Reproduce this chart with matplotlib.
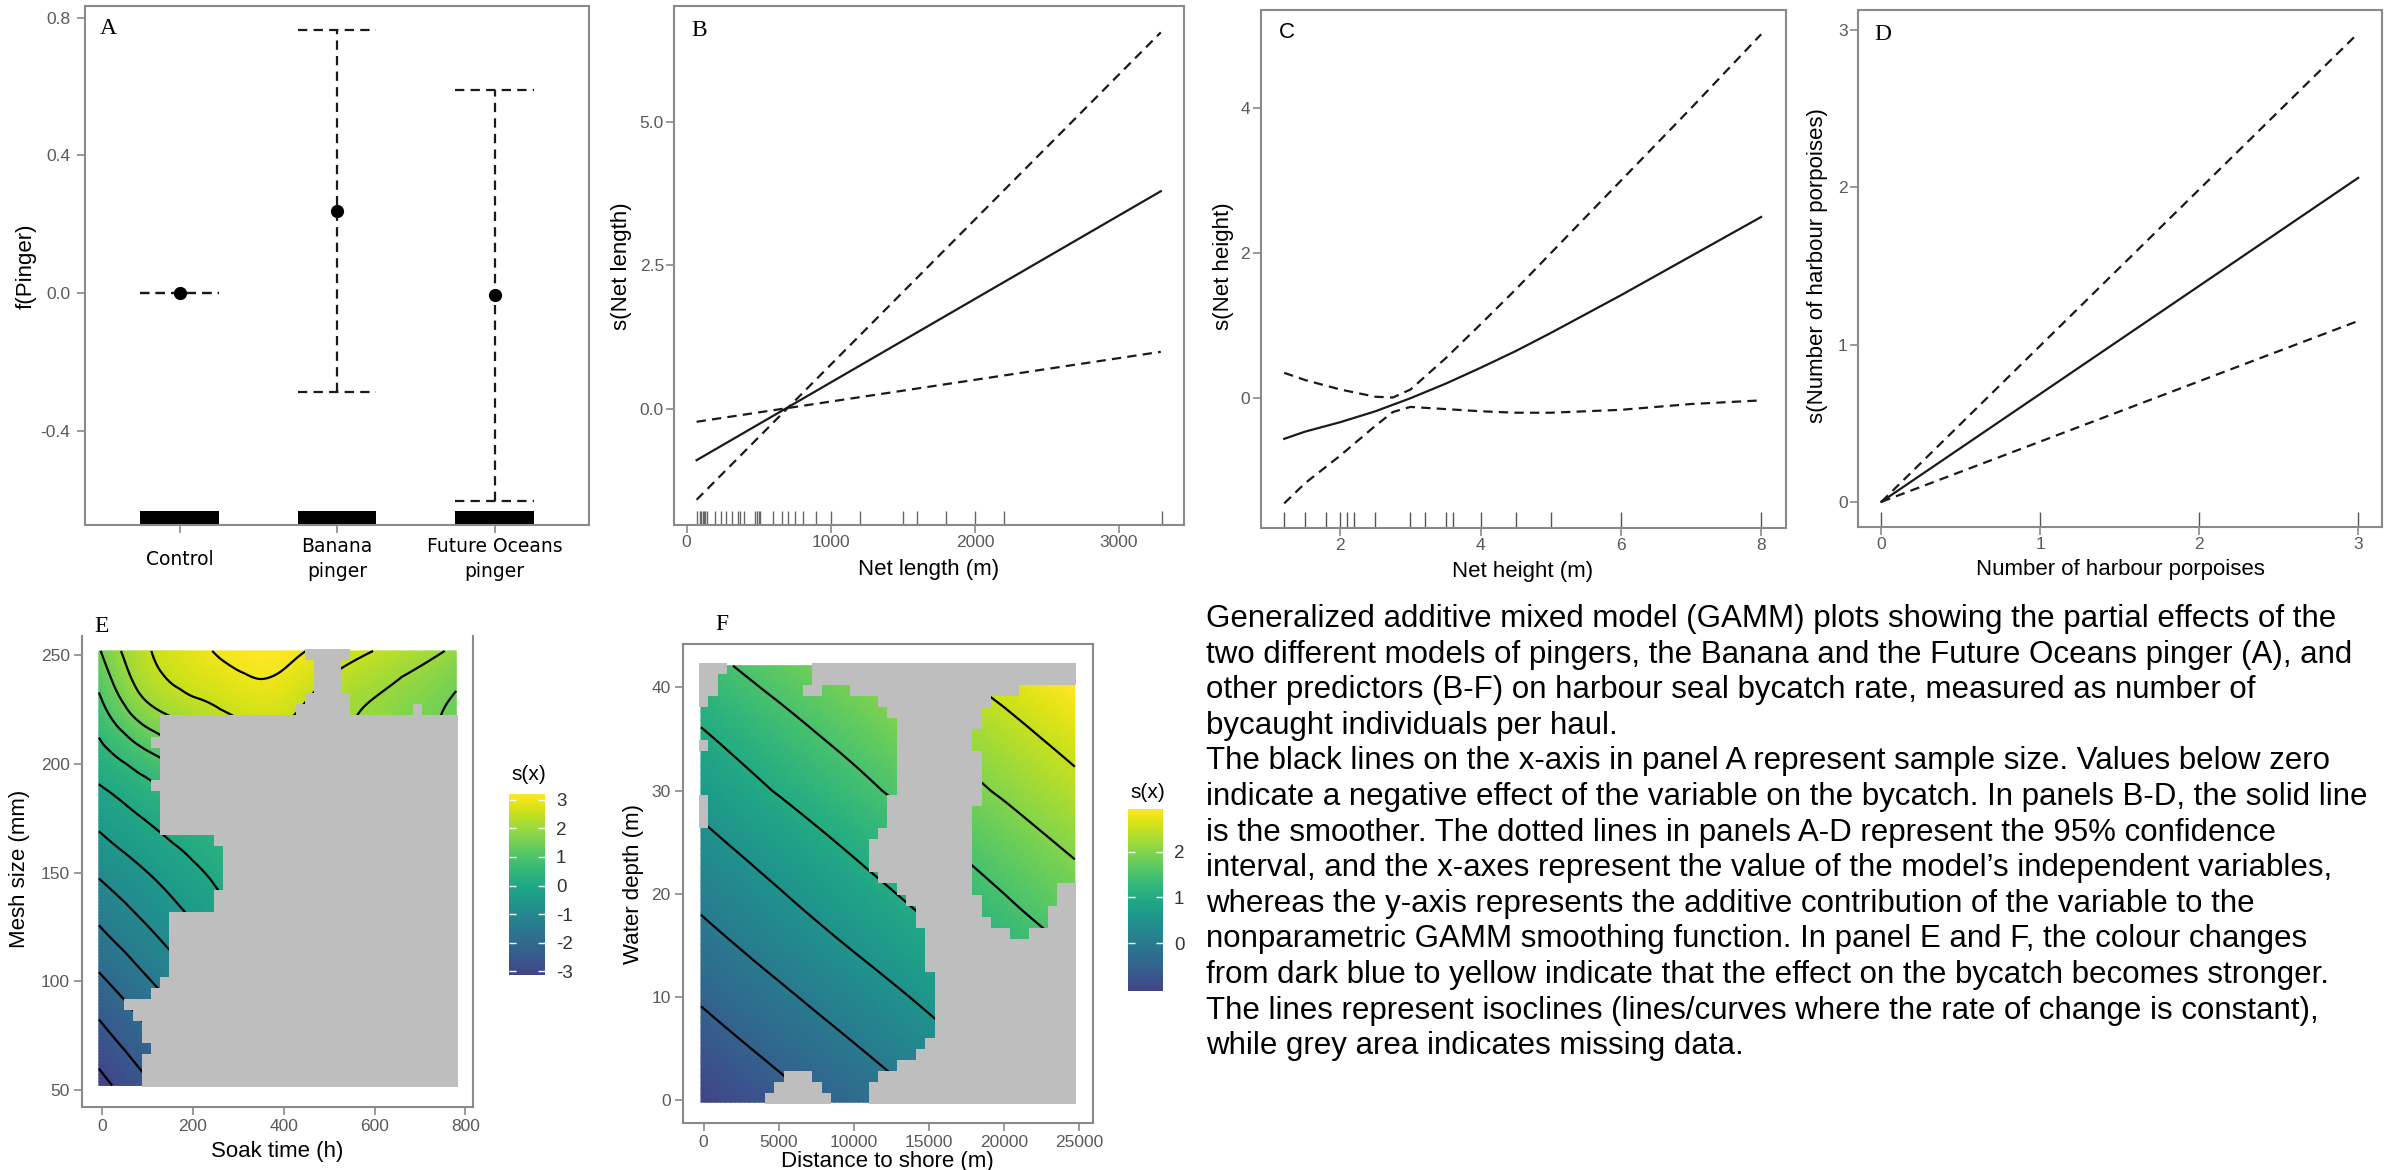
import numpy as np
import matplotlib
matplotlib.use('Agg')
import matplotlib.pyplot as plt
import matplotlib.tri as mtri
from matplotlib.colors import ListedColormap, Normalize
from matplotlib.cm import ScalarMappable
from matplotlib.ticker import FormatStrFormatter

plt.rcParams['font.family'] = ['Liberation Sans', 'DejaVu Sans']
plt.rcParams['axes.unicode_minus'] = False
plt.rcParams['contour.negative_linestyle'] = 'solid'

# ------------------------------------------------------------------ data
# Panel A : pinger effect
pinger_labels = ['Control', 'Banana\npinger', 'Future Oceans\npinger']
pinger_fit = [0.0, 0.239, -0.005]
pinger_upper = [0.0, 0.764, 0.590]
pinger_lower = [0.0, -0.287, -0.603]
pinger_bar_top = [-0.632, -0.632, -0.632]

# Panel B : net length
netlen_x = [69, 3290]
netlen_fit = [-0.90, 3.79]
netlen_upper = [-1.59, 6.56]
netlen_lower = [-0.23, 0.99]
netlen_rug = [70, 90, 100, 110, 120, 130, 140, 195, 235, 275, 315, 355, 370, 395,
              475, 485, 500, 510, 600, 660, 700, 750, 805, 900, 1000, 1200, 1500,
              1600, 1800, 2000, 2200, 3300]

# Panel C : net height
netht_x = [1.2, 1.5, 2.0, 2.5, 2.75, 3.0, 3.5, 4.0, 4.5, 5.0, 6.0, 7.0, 8.0]
netht_fit = [-0.56, -0.46, -0.33, -0.18, -0.09, 0.0, 0.2, 0.42, 0.65, 0.9, 1.42, 1.96, 2.5]
netht_upper = [0.35, 0.25, 0.12, 0.02, 0.01, 0.12, 0.55, 1.02, 1.5, 2.0, 3.0, 4.0, 5.02]
netht_lower = [-1.45, -1.17, -0.79, -0.38, -0.19, -0.12, -0.15, -0.18, -0.2, -0.2, -0.16, -0.08, -0.03]
netht_rug = [1.2, 1.5, 1.8, 2.0, 2.1, 2.2, 2.5, 3.0, 3.2, 3.5, 3.6, 4.0, 4.5, 5.0, 6.0, 8.0]

# Panel D : number of harbour porpoises
porp_x = [0, 3]
porp_fit = [0.0, 2.06]
porp_upper = [0.0, 2.98]
porp_lower = [0.0, 1.15]
porp_rug = [0, 1, 2, 3]

# Panel E : soak time x mesh size surface (node values, rows = mesh size bottom->top)
soak_nodes = [-7, 50, 100, 150, 200, 260, 340, 420, 500, 580, 660, 780]
mesh_nodes = [52, 77, 102, 127, 152, 177, 202, 227, 252]
E_values = [
    [-3.17, -2.85, -2.57, -2.28, -1.98, -1.62, -1.15, -0.68, -0.22, 0.18, 0.50, 0.90],
    [-2.62, -2.31, -2.04, -1.77, -1.49, -1.15, -0.72, -0.28, 0.15, 0.50, 0.80, 1.10],
    [-2.05, -1.76, -1.50, -1.25, -0.99, -0.68, -0.27, 0.12, 0.48, 0.78, 1.00, 1.30],
    [-1.47, -1.20, -0.97, -0.74, -0.51, -0.23, 0.14, 0.48, 0.80, 1.05, 1.25, 1.50],
    [-0.89, -0.66, -0.46, -0.26, -0.06, 0.18, 0.50, 0.80, 1.05, 1.28, 1.45, 1.65],
    [-0.32, -0.10, 0.08, 0.27, 0.45, 0.67, 0.95, 1.20, 1.40, 1.58, 1.72, 1.88],
    [0.27, 0.55, 0.82, 1.08, 1.35, 1.62, 1.90, 2.00, 1.95, 1.85, 1.72, 1.55],
    [0.85, 1.50, 1.95, 2.20, 2.38, 2.55, 2.75, 2.60, 2.25, 2.00, 1.78, 1.42],
    [1.45, 2.08, 2.45, 2.70, 2.88, 3.05, 3.20, 3.10, 2.82, 2.55, 2.30, 1.90],
]
E_range = [-3.13, 3.2]
E_mask = [  # top row first, '#' = data, '.' = missing (grey)
    "#######################.....############",
    "########################...#############",
    "########################...#############",
    "########################...#############",
    "#######################.....############",
    "######################......#######.####",
    "#######.................................",
    "#######.................................",
    "######..................................",
    "#######.................................",
    "#######.................................",
    "#######.................................",
    "######..................................",
    "#######.................................",
    "#######.................................",
    "#######.................................",
    "#######.................................",
    "#############...........................",
    "##############..........................",
    "##############..........................",
    "##############..........................",
    "##############..........................",
    "#############...........................",
    "#############...........................",
    "########................................",
    "########................................",
    "########................................",
    "########................................",
    "########................................",
    "########................................",
    "#######.................................",
    "######..................................",
    "###.....................................",
    "####....................................",
    "#####...................................",
    "#####...................................",
    "######..................................",
    "#####...................................",
    "#####...................................",
    "#####...................................",
]

# Panel F : distance to shore x water depth surface
dist_nodes = [-178, 5000, 10000, 15000, 20000, 24695]
depth_nodes = [-0.18, 10, 20, 30, 42.1]
F_values = [
    [-1.02, -0.67, -0.32, 0.02, 0.36, 0.69],
    [-0.45, -0.09, 0.25, 0.59, 0.94, 1.26],
    [0.11, 0.47, 0.81, 1.15, 1.50, 1.82],
    [0.67, 1.03, 1.37, 1.72, 2.06, 2.38],
    [1.35, 1.71, 2.05, 2.40, 2.74, 3.06],
]
F_range = [-1.04, 2.93]
F_mask = [
    "...#########............................",
    "..##########............................",
    "..#########..###..................######",
    ".##################............#########",
    "####################..........##########",
    "#####################.........##########",
    "#####################........###########",
    ".####################........###########",
    "#####################.........##########",
    "#####################.........##########",
    "#####################.........##########",
    "#####################.........##########",
    ".###################..........##########",
    ".###################.........###########",
    ".###################.........###########",
    "###################..........###########",
    "##################...........###########",
    "##################...........###########",
    "##################...........###########",
    "###################..........###########",
    "#####################........#########..",
    "######################........########..",
    "#######################.......#######...",
    "#######################........######...",
    "########################.........##.....",
    "########################................",
    "########################................",
    "########################................",
    "#########################...............",
    "#########################...............",
    "#########################...............",
    "#########################...............",
    "#########################...............",
    "#########################...............",
    "########################................",
    "#######################.................",
    "#####################...................",
    "#########...#######.....................",
    "########.....#####......................",
    "#######.......####......................",
]

caption_lines = [
    "Generalized additive mixed model (GAMM) plots showing the partial effects of the",
    "two different models of pingers, the Banana and the Future Oceans pinger (A), and",
    "other predictors (B-F) on harbour seal bycatch rate, measured as number of",
    "bycaught individuals per haul.",
    "The black lines on the x-axis in panel A represent sample size. Values below zero",
    "indicate a negative effect of the variable on the bycatch. In panels B-D, the solid line",
    "is the smoother. The dotted lines in panels A-D represent the 95% confidence",
    "interval, and the x-axes represent the value of the model\u2019s independent variables,",
    "whereas the y-axis represents the additive contribution of the variable to the",
    "nonparametric GAMM smoothing function. In panel E and F, the colour changes",
    "from dark blue to yellow indicate that the effect on the bycatch becomes stronger.",
    "The lines represent isoclines (lines/curves where the rate of change is constant),",
    "while grey area indicates missing data.",
]

# ------------------------------------------------------------------ figure
W, H = 2394, 1170
fig = plt.figure(figsize=(W / 100, H / 100), dpi=100)

SPINE = '#8a8a8a'
TICKC = '#5a5a5a'
LINEC = '#1a1a1a'
DASH = (0, (4.2, 2.8))
LW = 1.6
GREY = '#bebebe'


def add_ax(l, t, r, b):
    return fig.add_axes([l / W, 1 - b / H, (r - l) / W, (b - t) / H])


def ftext(x, y, s, **kw):
    return fig.text(x / W, 1 - y / H, s, **kw)


def style(ax, spines=('left', 'bottom', 'right', 'top'), pad=3):
    for s in ax.spines:
        ax.spines[s].set_visible(s in spines)
        ax.spines[s].set_color(SPINE)
        ax.spines[s].set_linewidth(1.5)
    ax.tick_params(direction='out', length=5.5, width=1.2, color=SPINE,
                   labelcolor=TICKC, labelsize=12.5, pad=pad)


# ---------- Panel A
axA = add_ax(85, 6, 589, 525)
A_ylim = (-0.674, 0.834)
xA = np.arange(1, len(pinger_labels) + 1)
axA.bar(xA, np.array(pinger_bar_top) - A_ylim[0], bottom=A_ylim[0], width=0.5,
        color='black', zorder=2)
axA.vlines(xA, pinger_lower, pinger_upper, colors=LINEC, linestyles=[DASH], lw=LW)
axA.hlines(pinger_upper, xA - 0.25, xA + 0.25, colors=LINEC, linestyles=[DASH], lw=LW)
axA.hlines(pinger_lower, xA - 0.25, xA + 0.25, colors=LINEC, linestyles=[DASH], lw=LW)
axA.plot(xA, pinger_fit, 'o', color='black', ms=8.5, zorder=4)
axA.set_xlim(0.4, 3.6)
axA.set_ylim(*A_ylim)
axA.set_yticks([-0.4, 0.0, 0.4, 0.8])
axA.yaxis.set_major_formatter(FormatStrFormatter('%.1f'))
style(axA, pad=5)
axA.set_xticks(xA)
axA.set_xticklabels(pinger_labels, family='DejaVu Sans', fontsize=13.5, color='black',
                    va='center', linespacing=1.4)
axA.tick_params(axis='x', pad=19)
ftext(26, 266, 'f(Pinger)', rotation=90, ha='center', va='center', fontsize=16)
ftext(108, 28, 'A', family='Liberation Serif', fontsize=17, ha='center', va='center')

# ---------- Panel B
axB = add_ax(674.4, 6, 1184, 525)
axB.plot(netlen_x, netlen_fit, color=LINEC, lw=LW)
axB.plot(netlen_x, netlen_upper, color=LINEC, lw=LW, ls=DASH)
axB.plot(netlen_x, netlen_lower, color=LINEC, lw=LW, ls=DASH)
axB.vlines(netlen_rug, 0, 0.027, transform=axB.get_xaxis_transform(), colors='#666666', lw=1)
axB.set_xlim(-85, 3451)
axB.set_ylim(-2.03, 7.02)
axB.set_xticks([0, 1000, 2000, 3000])
axB.set_yticks([0, 2.5, 5.0])
axB.yaxis.set_major_formatter(FormatStrFormatter('%.1f'))
style(axB, pad=2)
ftext(929, 570, 'Net length (m)', ha='center', va='center', fontsize=16)
ftext(622, 266, 's(Net length)', rotation=90, ha='center', va='center', fontsize=16)
ftext(699, 31, 'B', family='Liberation Serif', fontsize=17, ha='center', va='center')

# ---------- Panel C
axC = add_ax(1260.6, 9.6, 1785.7, 528)
axC.plot(netht_x, netht_fit, color=LINEC, lw=LW)
axC.plot(netht_x, netht_upper, color=LINEC, lw=LW, ls=DASH)
axC.plot(netht_x, netht_lower, color=LINEC, lw=LW, ls=DASH)
axC.vlines(netht_rug, 0, 0.031, transform=axC.get_xaxis_transform(), colors='#555555', lw=1)
axC.set_xlim(0.863, 8.35)
axC.set_ylim(-1.79, 5.36)
axC.set_xticks([2, 4, 6, 8])
axC.set_yticks([0, 2, 4])
style(axC, pad=2)
ftext(1523, 572, 'Net height (m)', ha='center', va='center', fontsize=16)
ftext(1224, 266, 's(Net height)', rotation=90, ha='center', va='center', fontsize=16)
ftext(1287, 33, 'C', fontsize=16, ha='center', va='center')

# ---------- Panel D
axD = add_ax(1858, 9.6, 2382, 527)
axD.plot(porp_x, porp_fit, color=LINEC, lw=LW)
axD.plot(porp_x, porp_upper, color=LINEC, lw=LW, ls=DASH)
axD.plot(porp_x, porp_lower, color=LINEC, lw=LW, ls=DASH)
axD.vlines(porp_rug, 0, 0.029, transform=axD.get_xaxis_transform(), colors='#555555', lw=1)
axD.set_xlim(-0.147, 3.15)
axD.set_ylim(-0.16, 3.13)
axD.set_xticks([0, 1, 2, 3])
axD.set_yticks([0, 1, 2, 3])
style(axD, pad=2)
ftext(2120, 570, 'Number of harbour porpoises', ha='center', va='center', fontsize=16)
ftext(1817, 266, 's(Number of harbour porpoises)', rotation=90, ha='center', va='center',
      fontsize=16)
ftext(1883, 34, 'D', family='Liberation Serif', fontsize=17, ha='center', va='center')

# ---------- surfaces
cmap = ListedColormap(plt.cm.viridis(np.linspace(0.2, 1.0, 256)))


def draw_surface(ax, xn, yn, vals, mask_rows, norm, levels):
    nx, ny = len(xn), len(yn)
    J, I = np.meshgrid(np.arange(nx, dtype=float), np.arange(ny, dtype=float))
    tris = []
    for i in range(ny - 1):
        for j in range(nx - 1):
            a = i * nx + j
            tris.append([a, a + 1, a + nx + 1])
            tris.append([a, a + nx + 1, a + nx])
    tri = mtri.Triangulation(J.ravel(), I.ravel(), np.array(tris))
    rtri, rz = mtri.UniformTriRefiner(tri).refine_field(np.asarray(vals, float).ravel(), subdiv=4)
    rx = np.interp(rtri.x, np.arange(nx), xn)
    ry = np.interp(rtri.y, np.arange(ny), yn)
    t2 = mtri.Triangulation(rx, ry, rtri.triangles)
    ax.tripcolor(t2, rz, shading='gouraud', cmap=cmap, norm=norm, zorder=1, rasterized=True)
    ax.tricontour(t2, rz, levels=levels, colors='black', linewidths=1.6, zorder=2,
                  linestyles='solid')
    miss = np.array([[c == '.' for c in row] for row in mask_rows])
    rgba = np.zeros(miss.shape + (4,))
    rgba[miss] = matplotlib.colors.to_rgba(GREY)
    mx = (xn[-1] - xn[0]) * 0.004
    my = (yn[-1] - yn[0]) * 0.004
    ax.imshow(rgba, extent=(xn[0] - mx, xn[-1] + mx, yn[0] - my, yn[-1] + my), origin='upper',
              interpolation='nearest', aspect='auto', zorder=3)


def colorbar(l, t, r, b, norm, ticks, title_y):
    cax = add_ax(l, t, r, b)
    cb = fig.colorbar(ScalarMappable(norm=norm, cmap=cmap), cax=cax)
    cb.outline.set_visible(False)
    cb.set_ticks(ticks)
    cax.tick_params(direction='in', length=5, width=1, color='white', left=True, right=True,
                    labelright=True, labelleft=False, labelsize=13.5, labelcolor='#333333', pad=8)
    ftext((l + r) / 2 + 2, title_y, 's(x)', ha='center', va='center', fontsize=15)


# ---------- Panel E
axE = add_ax(81.6, 636.4, 473.5, 1106.7)
normE = Normalize(*E_range)
draw_surface(axE, soak_nodes, mesh_nodes, E_values, E_mask, normE, np.arange(-3, 3.5, 0.5))
axE.set_xlim(-45, 818)
axE.set_ylim(42.2, 258.7)
axE.set_xticks([0, 200, 400, 600, 800])
axE.set_yticks([50, 100, 150, 200, 250])
style(axE, spines=('left', 'bottom', 'right'), pad=3)
ftext(277, 1152, 'Soak time (h)', ha='center', va='center', fontsize=16)
ftext(20, 869, 'Mesh size (mm)', rotation=90, ha='center', va='center', fontsize=16)
ftext(102, 627, 'E', family='Liberation Serif', fontsize=17, ha='center', va='center')
colorbar(509, 794, 545, 975, normE, [-3, -2, -1, 0, 1, 2, 3], 774)

# ---------- Panel F
axF = add_ax(682.6, 644, 1092.8, 1123)
normF = Normalize(*F_range)
draw_surface(axF, dist_nodes, depth_nodes, F_values, F_mask, normF, np.arange(-0.5, 3.0, 0.5))
axF.set_xlim(-1400, 25890)
axF.set_ylim(-2.19, 44.2)
axF.set_xticks([0, 5000, 10000, 15000, 20000, 25000])
axF.set_yticks([0, 10, 20, 30, 40])
style(axF, pad=3)
ftext(887, 1161, 'Distance to shore (m)', ha='center', va='center', fontsize=16)
ftext(634, 884, 'Water depth (m)', rotation=90, ha='center', va='center', fontsize=16)
ftext(722, 625, 'F', family='Liberation Serif', fontsize=17, ha='center', va='center')
colorbar(1128, 809, 1163, 991, normF, [0, 1, 2], 792)

# ---------- caption
for k, line in enumerate(caption_lines):
    ftext(1206, 627 + 35.6 * k, line, ha='left', va='baseline', fontsize=22.5,
          color='black')

fig.savefig('out.png', dpi=100)
